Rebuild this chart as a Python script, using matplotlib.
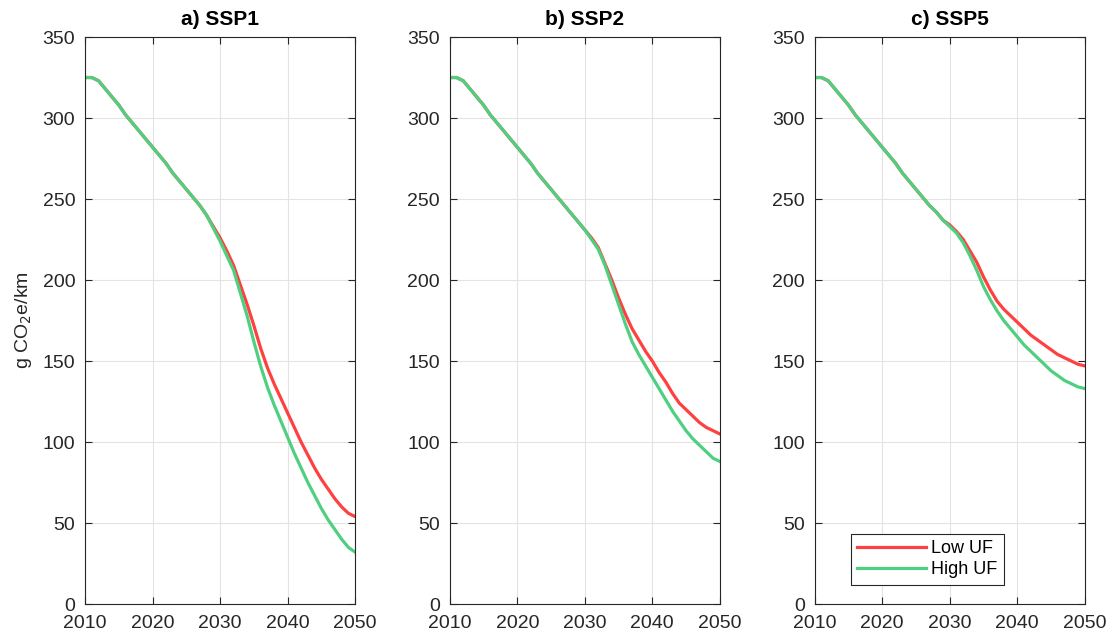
import numpy as np
import matplotlib
matplotlib.use('Agg')
import matplotlib.pyplot as plt

plt.rcParams['font.family'] = ['Liberation Sans', 'DejaVu Sans']

# years 2010..2050
years = list(range(2010, 2051))

# common part 2010-2027
base = [325, 325, 323, 318, 313, 308, 302, 297, 292, 287, 282,
        277, 272, 266, 261, 256, 251, 246]

ssp1_low = base + [240, 233, 226, 218, 209, 197, 185, 172, 158, 146, 136, 127,
                   118, 109, 100, 92, 84, 77, 71, 65, 60, 56, 54]
ssp1_high = base + [240, 232, 224, 215, 206, 192, 178, 162, 147, 134, 123, 113,
                    103, 93, 84, 75, 67, 59, 52, 46, 40, 35, 32]

ssp2_low = base + [241, 236, 231, 226, 220, 210, 200, 189, 179, 170, 163, 156,
                   150, 143, 137, 130, 124, 120, 116, 112, 109, 107, 105]
ssp2_high = base + [241, 236, 231, 225, 219, 209, 197, 185, 173, 162, 154, 147,
                    140, 133, 126, 119, 113, 107, 102, 98, 94, 90, 88]

ssp5_low = base + [242, 237, 234, 230, 225, 218, 211, 202, 194, 187, 182, 178,
                   174, 170, 166, 163, 160, 157, 154, 152, 150, 148, 147]
ssp5_high = base + [242, 237, 233, 229, 223, 215, 206, 196, 188, 181, 175, 170,
                    165, 160, 156, 152, 148, 144, 141, 138, 136, 134, 133]

titles = ['a) SSP1', 'b) SSP2', 'c) SSP5']
low_series = [ssp1_low, ssp2_low, ssp5_low]
high_series = [ssp1_high, ssp2_high, ssp5_high]

red = '#FF4040'
green = '#4FCF80'
axcol = '#262626'

fig = plt.figure(figsize=(11.16, 6.34), dpi=100)
lefts = [0.0762, 0.403, 0.730]

for i in range(3):
    ax = fig.add_axes([lefts[i], 0.0473, 0.242, 0.8943])
    ax.plot(years, low_series[i], color=red, lw=2.3, label='Low UF')
    ax.plot(years, high_series[i], color=green, lw=2.3, label='High UF')
    ax.set_xlim(2010, 2050)
    ax.set_ylim(0, 350)
    ax.set_xticks([2010, 2020, 2030, 2040, 2050])
    ax.set_yticks(range(0, 351, 50))
    ax.grid(True, color='#E3E3E3', lw=0.8)
    ax.set_axisbelow(True)
    ax.tick_params(direction='in', top=True, right=True, labelsize=14,
                   colors=axcol, length=5, width=0.8)
    ax.tick_params(axis='y', pad=7)
    ax.tick_params(axis='x', pad=8)
    for s in ax.spines.values():
        s.set_color(axcol)
        s.set_linewidth(0.8)
    ax.set_title(titles[i], fontsize=15, fontweight='bold', color='black', pad=9)
    if i == 0:
        ax.set_ylabel('g CO$_2$e/km', fontsize=14, color=axcol, labelpad=6)
    if i == 2:
        leg = ax.legend(loc='lower left', bbox_to_anchor=(0.10, 0.018),
                        fontsize=13, frameon=True, fancybox=False,
                        edgecolor=axcol, handlelength=3.8, borderpad=0.35,
                        labelspacing=0.25, handletextpad=0.3, framealpha=1)
        leg.get_frame().set_linewidth(0.8)

fig.savefig('out.png', dpi=100)
